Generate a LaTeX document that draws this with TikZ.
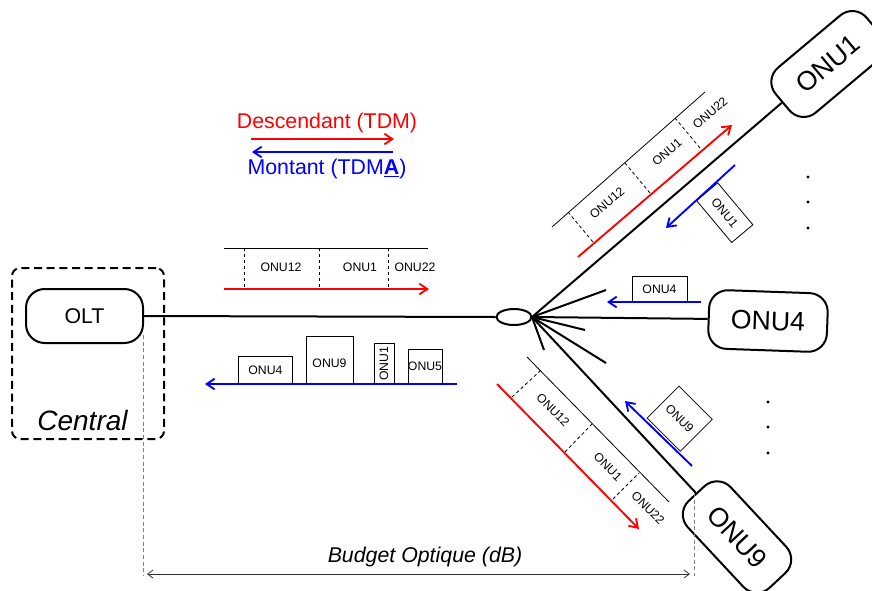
\documentclass[tikz,border=0pt]{standalone}
\usepackage{fontspec}
\setmainfont{Liberation Sans}
\usetikzlibrary{arrows.meta,shapes.geometric}
\newcommand\fOnu{\fontsize{20}{20}\selectfont}
\newcommand\fOlt{\fontsize{16}{16}\selectfont}
\newcommand\fLeg{\fontsize{16}{16}\selectfont}
\newcommand\fSmall{\fontsize{9.2}{10}\selectfont}
\newcommand\fBud{\fontsize{16}{16}\selectfont}
\newcommand\fCen{\fontsize{21}{21}\selectfont}
\begin{document}
\begin{tikzpicture}[x=0.75pt,y=-0.75pt,
  fiber/.style={line width=1.5pt,black},
  onubox/.style={draw,line width=1.5pt,rounded corners=14pt,minimum width=89pt,minimum height=44pt,inner sep=0pt,font=\fOnu},
  thinl/.style={line width=0.6pt,black},
  sep/.style={line width=0.6pt,dash pattern=on 2.5pt off 2pt},
  down/.style={line width=1.4pt,red,-{Straight Barb[length=6pt,width=8pt]}},
  up/.style={line width=1.4pt,blue,-{Straight Barb[length=6pt,width=8pt]}},
  pkt/.style={draw,line width=0.6pt,inner sep=0pt,font=\fSmall},
  lbl/.style={inner sep=0pt,font=\fSmall},
  guide/.style={line width=0.6pt,gray,dash pattern=on 3pt off 2pt},
  dotn/.style={circle,fill=black,inner sep=0pt,minimum size=2.6pt}
]
\useasboundingbox (0,0) rectangle (872,590);

% central office
\node[draw,line width=1.5pt,dash pattern=on 6pt off 3.5pt,rounded corners=6pt,minimum width=114pt,minimum height=128.25pt,inner sep=0pt] (central) at (88,353.5) {};
\node[font=\fCen\itshape,inner sep=0pt] (centxt) at (82.5,420) {Central};
\node[draw,line width=1.5pt,rounded corners=14pt,minimum width=87.75pt,minimum height=40.5pt,inner sep=0pt,font=\fOlt] (olt) at (84.5,316) {OLT};

% splitter
\node[draw,ellipse,line width=1.5pt,minimum width=26.25pt,minimum height=12pt,inner sep=0pt] (split) at (514,317) {};
\coordinate (hub) at (532,317);
\draw[fiber] (olt.east) -- (split.west);

% ONUs
\node[onubox,rotate=40] (onu1) at (828,64) {ONU1};
\node[onubox,rotate=-2] (onu4) at (768,321) {ONU4};
\node[onubox,rotate=-47] (onu9) at (737,537) {ONU9};
\draw[fiber] (hub) -- (onu1.west);
\draw[fiber] (hub) -- (onu4.west);
\draw[fiber] (hub) -- (onu9.west);
\coordinate (f1) at (606,290);
\coordinate (f2) at (585,330);
\coordinate (f3) at (544,350);
\coordinate (f4) at (606,363);
\draw[fiber] (hub) -- (f1);
\draw[fiber] (hub) -- (f2);
\draw[fiber] (hub) -- (f3);
\draw[fiber] (hub) -- (f4);

% dots
\node[dotn] (d1) at (808,177) {};
\node[dotn] (d2) at (808,202) {};
\node[dotn] (d3) at (808,228) {};
\node[dotn] (d4) at (768,402) {};
\node[dotn] (d5) at (768,427) {};
\node[dotn] (d6) at (768,453) {};

% legend
\node[red,font=\fLeg,inner sep=0pt] (legd) at (327,123) {Descendant (TDM)};
\coordinate (la) at (251,139);
\coordinate (lb) at (394,139);
\draw[down] (la) -- (lb);
\coordinate (lc) at (393,152);
\coordinate (ld) at (252,152);
\draw[up] (lc) -- (ld);
\node[blue,font=\fLeg,inner sep=0pt] (legm) at (327,169) {Montant (TDM\underline{\textbf{A}})};

% horizontal downstream frame
\coordinate (h0) at (224,248);
\coordinate (h1) at (428,248);
\draw[thinl] (h0) -- (h1);
\draw[sep] (244,248) -- (244,289);
\draw[sep] (319,248) -- (319,289);
\draw[sep] (388,248) -- (388,289);
\coordinate (ha) at (224,289);
\coordinate (hb) at (429,289);
\draw[down] (ha) -- (hb);
\node[lbl] (h12) at (281,267) {ONU12};
\node[lbl] (hh1) at (360,267) {ONU1};
\node[lbl] (h22) at (415,267) {ONU22};

% horizontal upstream bursts
\coordinate (ua) at (457,384);
\coordinate (ub) at (205,384);
\node[pkt,minimum width=40.5pt,minimum height=20.25pt,anchor=south west] (u4) at (238,384) {ONU4};
\node[pkt,minimum width=35.25pt,minimum height=35.25pt,anchor=south west] (u9) at (306,384) {};
\node[lbl] (u9t) at (329.5,363) {ONU9};
\node[pkt,rotate=90,minimum width=30.75pt,minimum height=15pt] (u1) at (384,363.5) {ONU1};
\node[pkt,minimum width=25.5pt,minimum height=25.5pt,anchor=south west] (u5) at (408,384) {};
\node[lbl] (u5t) at (425,366) {ONU5};
\draw[up] (ua) -- (ub);

% upper-right downstream frame
\draw[thinl] (552,227) -- (705,92);
\draw[sep] (593,242) -- (568,212);
\draw[sep] (650,193) -- (625,163);
\draw[sep] (700,148) -- (675,118);
\coordinate (ra) at (578,257);
\coordinate (rb) at (732,125);
\draw[down] (ra) -- (rb);
\node[lbl,rotate=40] (r12) at (607,203) {ONU12};
\node[lbl,rotate=40] (r1) at (667,152) {ONU1};
\node[lbl,rotate=40] (r22) at (710,113) {ONU22};

% upper-right upstream burst
\node[pkt,rotate=-50,minimum width=41pt,minimum height=20.7pt] (q1) at (724.7,212.7) {ONU1};
\coordinate (qa) at (735,165);
\coordinate (qb) at (666,228);
\draw[up] (qa) -- (qb);

% ONU4 upstream burst
\node[pkt,minimum width=41.25pt,minimum height=19.5pt] (q4) at (659.5,289) {ONU4};
\coordinate (pa) at (701,302);
\coordinate (pb) at (607,302);
\draw[up] (pa) -- (pb);

% lower-right downstream frame
\draw[thinl] (527,357) -- (669,502);
\draw[sep] (512,397) -- (540,371);
\draw[sep] (565,452) -- (592,424);
\draw[sep] (613,499) -- (639,473);
\coordinate (sa) at (497,384);
\coordinate (sb) at (639,529);
\draw[down] (sa) -- (sb);
\node[lbl,rotate=-45] (s12) at (553,410) {ONU12};
\node[lbl,rotate=-45] (s1) at (608,467) {ONU1};
\node[lbl,rotate=-45] (s22) at (648,508) {ONU22};

% ONU9 upstream burst
\node[pkt,rotate=-45,minimum width=35.25pt,minimum height=33.75pt] (q9) at (679.7,418.7) {ONU9};
\coordinate (ta) at (692,466);
\coordinate (tb) at (625,401);
\draw[up] (ta) -- (tb);

% budget
\coordinate (g1) at (143,335);
\coordinate (g2) at (143,576);
\coordinate (g3) at (694,493);
\coordinate (g4) at (694,576);
\draw[guide] (g1) -- (g2);
\draw[guide] (g3) -- (g4);
\coordinate (ba) at (147,574);
\coordinate (bb) at (690,574);
\draw[line width=0.6pt,black!80,{Straight Barb[length=4pt,width=6pt]}-{Straight Barb[length=4pt,width=6pt]}] (ba) -- (bb);
\node[font=\fBud\itshape,inner sep=0pt] (bud) at (425,557) {Budget Optique (dB)};
\end{tikzpicture}
\end{document}
